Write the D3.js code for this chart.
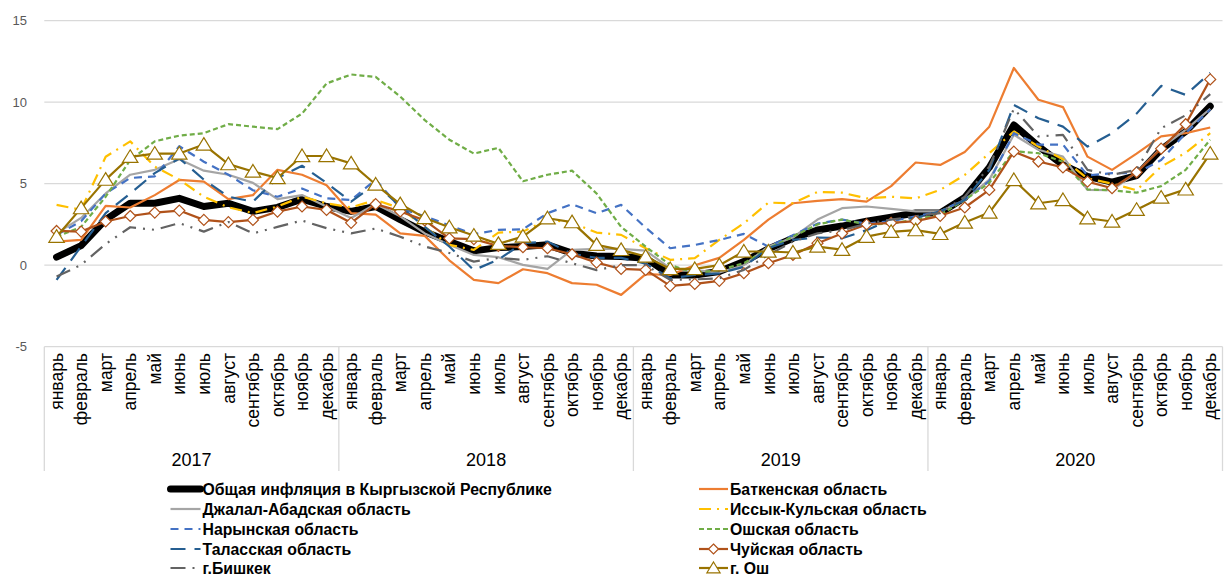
<!DOCTYPE html>
<html><head><meta charset="utf-8">
<script src="https://cdn.jsdelivr.net/npm/d3@7"></script>
<style>body{margin:0;background:#fff}svg{display:block}</style>
</head><body>
<svg id="c" width="1228" height="577"></svg>
<script>
const months = ["январь","февраль","март","апрель","май","июнь","июль","август","сентябрь","октябрь","ноябрь","декабрь"];
const years = ["2017","2018","2019","2020"];
const yTicks = [-5, 0, 5, 10, 15];

const total   = [0.5,1.2,2.8,3.8,3.8,4.1,3.6,3.8,3.3,3.55,4.05,3.6, 3.3,3.6,2.8,2.05,1.45,0.88,1.08,1.14,1.25,0.74,0.57,0.53, 0.43,-0.6,-0.6,-0.39,0.22,1.0,1.65,2.16,2.4,2.7,2.95,3.2, 3.2,4.15,6.0,8.6,7.3,6.15,5.45,5.1,5.5,7.1,8.2,9.75];
const batken  = [1.45,1.55,3.64,3.54,4.3,5.23,5.13,4.05,4.3,5.85,5.55,4.9, 3.2,3.1,1.95,1.8,0.3,-0.9,-1.1,-0.25,-0.49,-1.1,-1.2,-1.82, -0.55,-0.6,0.0,0.45,1.55,2.8,3.8,3.95,4.05,3.9,4.85,6.3, 6.15,6.95,8.5,12.1,10.15,9.7,6.66,5.85,6.85,7.9,8.1,8.45];
const jalal   = [1.95,2.9,4.4,5.55,5.85,6.5,5.8,5.55,5.05,4.05,4.3,3.6, 2.9,3.75,3.0,1.95,1.25,0.63,0.49,0.02,-0.23,0.94,1.0,1.0, 0.9,-0.2,-0.3,-0.45,0.0,1.15,1.7,2.8,3.5,3.6,3.45,3.3, 3.3,4.0,5.25,8.0,7.08,6.66,4.62,4.6,5.7,7.2,8.3,9.6];
const issyk   = [3.7,3.4,6.65,7.6,6.05,5.25,4.2,3.55,3.2,3.6,4.2,3.8, 3.55,4.0,3.5,2.35,1.25,0.94,2.0,2.06,2.8,2.6,2.0,1.86, 1.04,0.33,0.43,1.55,2.57,3.84,3.8,4.5,4.45,4.1,4.2,4.1, 4.62,5.54,6.87,8.2,7.28,6.5,5.33,5.0,4.6,6.05,6.9,8.1];
const naryn   = [1.85,2.7,4.4,5.35,5.45,7.3,6.35,5.55,4.6,4.2,4.7,4.1, 4.0,5.25,3.5,3.0,2.45,1.9,2.17,2.2,3.19,3.74,3.19,3.7, 2.3,1.04,1.24,1.55,1.92,1.14,1.84,2.55,2.8,2.55,2.7,3.0, 3.3,4.05,5.15,8.1,7.4,7.4,5.5,5.65,5.65,6.45,8.1,9.55];
const oshReg  = [1.75,2.35,4.2,6.45,7.6,7.95,8.1,8.65,8.5,8.35,9.3,11.15, 11.7,11.55,10.35,8.9,7.7,6.85,7.2,5.15,5.55,5.8,4.4,2.35, 1.14,0.02,-0.49,-0.29,0.12,1.04,1.76,2.5,2.8,2.5,2.55,2.8, 3.1,4.0,5.05,7.0,6.87,6.35,4.65,4.6,4.45,4.85,5.85,7.7];
const talas   = [-0.9,1.15,3.2,4.4,5.65,6.55,5.25,4.2,3.9,5.35,6.1,5.05, 3.9,5.0,3.6,2.35,1.15,-0.3,0.35,1.35,1.45,0.7,0.45,0.45, 0.1,-0.8,-0.6,-0.5,-0.1,1.05,1.55,1.7,1.65,2.15,2.8,2.9, 3.3,4.0,5.85,9.83,9.02,8.5,7.28,8.1,9.3,11.0,10.45,11.8];
const chuy    = [2.1,2.06,2.68,3.02,3.23,3.35,2.78,2.64,2.78,3.29,3.6,3.39, 2.6,3.75,3.3,2.75,1.65,1.6,1.18,1.1,1.04,0.67,0.16,-0.23, -0.29,-1.27,-1.15,-0.96,-0.49,0.12,0.63,1.35,1.95,2.5,2.6,2.7, 3.03,3.54,4.62,6.97,6.36,6.0,5.13,4.72,5.7,7.15,8.65,11.4];
const bishkek = [-0.7,0.02,1.3,2.33,2.17,2.58,2.06,2.65,1.95,2.35,2.74,2.27, 1.95,2.25,1.75,1.15,0.75,0.22,0.45,0.33,0.55,0.12,-0.3,0.0, 0.0,-0.9,-0.87,-0.8,-0.29,0.63,1.45,1.95,2.15,2.55,2.8,3.0, 3.2,4.2,6.05,9.6,7.9,8.0,5.85,5.54,5.85,8.4,9.2,10.5];
const oshCity = [1.75,3.5,5.25,6.65,6.85,6.85,7.4,6.2,5.75,5.35,6.7,6.7, 6.25,4.95,3.75,2.9,2.33,1.82,1.31,1.76,2.88,2.64,1.25,0.94, 0.53,-0.23,-0.23,0.0,0.84,0.84,0.78,1.14,0.95,1.75,2.05,2.15, 1.92,2.62,3.23,5.23,3.8,4.0,2.88,2.68,3.4,4.15,4.65,6.85];

const seriesNames = ["Общая инфляция в Кыргызской Республике","Баткенская область","Джалал-Абадская область","Иссык-Кульская область","Нарынская область","Ошская область","Таласская область","Чуйская область","г.Бишкек","г. Ош"];
const seriesValues = [total,batken,jalal,issyk,naryn,oshReg,talas,chuy,bishkek,oshCity];
const styles = [
  {color:"#000000", width:7, dash:null, marker:null},
  {color:"#ED7D31", width:2.2, dash:null, marker:null},
  {color:"#A5A5A5", width:2.2, dash:null, marker:null},
  {color:"#FFC000", width:2.2, dash:"12,6,2,6", marker:null},
  {color:"#4472C4", width:2.2, dash:"8,6", marker:null},
  {color:"#70AD47", width:2.2, dash:"5,3", marker:null},
  {color:"#255E91", width:2.2, dash:"15,9", marker:null},
  {color:"#B0521A", width:2.2, dash:null, marker:"diamond"},
  {color:"#636363", width:2.2, dash:"15,7,2,7,2,7", marker:null},
  {color:"#997300", width:2.2, dash:null, marker:"triangle"}
];

const cats = [];
years.forEach(y => months.forEach(m => cats.push(y + "|" + m)));

const FONT = "Liberation Sans, Arial, sans-serif";
const svg = d3.select("#c");
const L = 44.3, R = 1222.5, T = 20.7, B = 346.7;
const x = d3.scaleBand().domain(cats).range([L, R]).padding(0);
const y = d3.scaleLinear().domain([-5, 15]).range([B, T]);
const cx = i => x(cats[i]) + x.bandwidth() / 2;

// gridlines
svg.append("g").selectAll("line").data(yTicks).join("line")
  .attr("x1", L).attr("x2", R).attr("y1", d => y(d)).attr("y2", d => y(d))
  .attr("stroke", "#D9D9D9").attr("stroke-width", 1.3);

// y labels
svg.append("g").selectAll("text").data(yTicks).join("text")
  .attr("x", 27).attr("y", d => y(d)).attr("dy", "0.35em")
  .attr("text-anchor", "end").attr("fill", "#595959")
  .attr("font-family", FONT).attr("font-size", 13)
  .text(d => d);

// category axis box
const axBottom = 471;
const axg = svg.append("g").attr("stroke", "#D9D9D9").attr("stroke-width", 1.3);
const bounds = [0, 12, 24, 36, 48].map(i => i < 48 ? x(cats[i]) : R);
axg.selectAll("line.v").data(bounds).join("line").attr("class","v")
  .attr("x1", d => d).attr("x2", d => d).attr("y1", B).attr("y2", axBottom);

// month labels
svg.append("g").selectAll("text").data(cats).join("text")
  .attr("transform", (d, i) => `translate(${cx(i)},353) rotate(-90)`)
  .attr("dy", "0.35em").attr("text-anchor", "end")
  .attr("fill", "#000").attr("font-family", FONT).attr("font-size", 17.5)
  .text(d => d.split("|")[1]);

// year labels
svg.append("g").selectAll("text").data(years).join("text")
  .attr("x", (d, i) => (bounds[i] + bounds[i + 1]) / 2).attr("y", 460).attr("dy", "0.35em")
  .attr("text-anchor", "middle").attr("fill", "#000")
  .attr("font-family", FONT).attr("font-size", 18)
  .text(d => d);

// series
const line = d3.line().x((d, i) => cx(i)).y(d => y(d)).curve(d3.curveLinear);
const diamond = s => `M0,${-s}L${s},0L0,${s}L${-s},0Z`;
const triangle = s => `M0,${-s}L${s*1.1},${s*0.8}L${-s*1.1},${s*0.8}Z`;

seriesValues.forEach((vals, k) => {
  const st = styles[k];
  svg.append("path").datum(vals).attr("d", line)
    .attr("fill", "none").attr("stroke", st.color).attr("stroke-width", st.width)
    .attr("stroke-linejoin", "round").attr("stroke-linecap", k === 0 ? "round" : "butt")
    .attr("stroke-dasharray", st.dash);
  if (st.marker) {
    svg.append("g").selectAll("path").data(vals).join("path")
      .attr("transform", (d, i) => `translate(${cx(i)},${y(d)})`)
      .attr("d", st.marker === "diamond" ? diamond(5.5) : triangle(7))
      .attr("fill", "#fff").attr("stroke", st.color).attr("stroke-width", 1.2);
  }
});

// legend
const rowsY = [489, 509, 529, 549, 568];
const colX = [[170.5, 200.5], [699, 728]];
const lg = svg.append("g");
seriesNames.forEach((name, k) => {
  const st = styles[k];
  const col = k % 2, row = Math.floor(k / 2);
  const [x0, x1] = colX[col];
  const yy = rowsY[row];
  lg.append("line").attr("x1", x0).attr("x2", x1).attr("y1", yy).attr("y2", yy)
    .attr("stroke", st.color).attr("stroke-width", st.width)
    .attr("stroke-linecap", k === 0 ? "round" : "butt")
    .attr("stroke-dasharray", st.dash);
  if (st.marker) {
    lg.append("path").attr("transform", `translate(${(x0 + x1) / 2},${yy})`)
      .attr("d", st.marker === "diamond" ? diamond(5) : triangle(6))
      .attr("fill", "#fff").attr("stroke", st.color).attr("stroke-width", 1.2);
  }
  lg.append("text").attr("x", x1 + 2).attr("y", yy).attr("dy", "0.35em")
    .attr("font-family", FONT).attr("font-weight", "bold")
    .attr("font-size", 15.8).attr("fill", "#000").text(name);
});
</script>
</body></html>
